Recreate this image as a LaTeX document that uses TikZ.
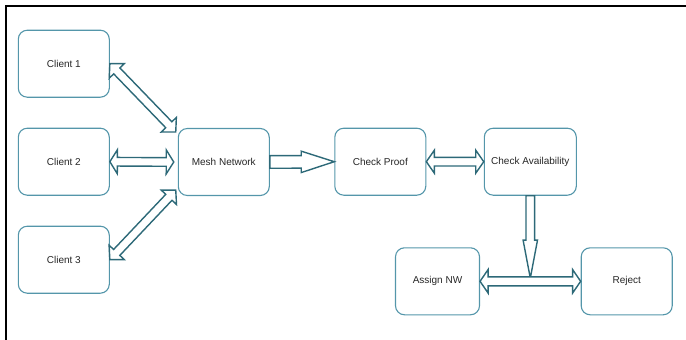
\documentclass[tikz,border=0pt]{standalone}
\usepackage{fontspec}
\setmainfont{Liberation Sans}
\usetikzlibrary{calc}

\definecolor{boxline}{RGB}{84,150,170}
\definecolor{arrowline}{RGB}{45,105,120}
\definecolor{labeltext}{RGB}{38,38,38}

\tikzset{
  stepbox/.style={draw=boxline, line width=1.1pt, rounded corners=9pt,
    minimum width=91pt, minimum height=67pt, inner sep=2pt,
    text=labeltext, font=\fontsize{10}{12}\selectfont},
  blockarrow/.style={draw=arrowline, fill=white, line width=1.4pt, line join=miter},
  frameline/.style={draw=black, line width=2.4pt}
}

% Block arrow with a head at both ends.
% #1 start, #2 end, #3 head length, #4 head half width, #5 shaft half width
\newcommand\twowayarrow[5]{%
  \draw[blockarrow] (#1)
    -- ($(#1)!#3!(#2)!#4!90:(#2)$)
    -- ($(#1)!#3!(#2)!#5!90:(#2)$)
    -- ($(#2)!#3!(#1)!#5!-90:(#1)$)
    -- ($(#2)!#3!(#1)!#4!-90:(#1)$)
    -- (#2)
    -- ($(#2)!#3!(#1)!#4!90:(#1)$)
    -- ($(#2)!#3!(#1)!#5!90:(#1)$)
    -- ($(#1)!#3!(#2)!#5!-90:(#2)$)
    -- ($(#1)!#3!(#2)!#4!-90:(#2)$)
    -- cycle;}

% Block arrow with a single head at the end.
\newcommand\onewayarrow[5]{%
  \draw[blockarrow] ($(#1)!#5!90:(#2)$)
    -- ($(#2)!#3!(#1)!#5!-90:(#1)$)
    -- ($(#2)!#3!(#1)!#4!-90:(#1)$)
    -- (#2)
    -- ($(#2)!#3!(#1)!#4!90:(#1)$)
    -- ($(#2)!#3!(#1)!#5!90:(#1)$)
    -- ($(#1)!#5!-90:(#2)$)
    -- cycle;}

\begin{document}
\begin{tikzpicture}[x=1pt, y=-1pt]
  \useasboundingbox (0,0) rectangle (686,340);

  % frame lines along the top and left
  \draw[frameline] (6.2,340) -- (6.2,6.2) -- (686,6.2);

  % boxes
  \node[stepbox] (c1) at (63.8,63.7) {Client 1};
  \node[stepbox] (c2) at (63.8,161.7) {Client 2};
  \node[stepbox] (c3) at (63.8,259.7) {Client 3};
  \node[stepbox] (mesh) at (223.8,162) {Mesh Network};
  \node[stepbox] (proof) at (380.3,161.7) {Check Proof};
  \node[stepbox, minimum width=92pt] (avail) at (530.3,161.7) {Check Availability};
  \node[stepbox, minimum width=84pt] (assign) at (437.5,281.3) {Assign NW};
  \node[stepbox] (reject) at (626.7,281.3) {Reject};

  % arrow end points next to the mesh box
  \coordinate (m1) at ([shift={(-2,4)}]mesh.north west);
  \coordinate (m2) at ([xshift=-4pt]mesh.west);
  \coordinate (m3) at ([shift={(-2,-6)}]mesh.south west);
  \coordinate (split) at ($(avail.south)+(0,82.4)$);

  % connectors
  \twowayarrow{c1.east}{m1}{10pt}{10.5pt}{4.3pt}
  \twowayarrow{c2.east}{m2}{7.5pt}{12pt}{4.3pt}
  \twowayarrow{c3.east}{m3}{10pt}{10.5pt}{4.3pt}
  \onewayarrow{mesh.east}{proof.west}{33pt}{10.7pt}{6.3pt}
  \twowayarrow{proof.east}{avail.west}{8pt}{11.5pt}{4.3pt}
  \onewayarrow{avail.south}{split}{38pt}{7.2pt}{4.3pt}
  \twowayarrow{assign.east}{reject.west}{8pt}{11.7pt}{4.5pt}
\end{tikzpicture}
\end{document}
